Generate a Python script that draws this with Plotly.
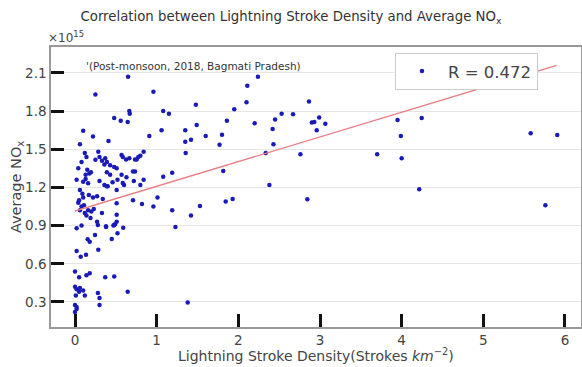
import plotly.graph_objects as go

# Scatter data (Lightning stroke density, average NOx in 1e15)
density = [
    1.08, 1.15, 1.48, 2.10, 1.95, 0.91, 1.06, 1.35, 1.49, 1.35, 1.42, 1.60, 1.80, 1.86, 1.77,
    2.20, 2.42, 2.45, 2.53, 2.67, 2.43, 2.335, 1.355, 1.815, 2.38, 1.845, 1.93, 1.08, 1.19,
    1.01, 0.96, 1.19, 1.42, 1.53, 1.23, 1.38,
    2.865, 2.90, 2.93, 2.99, 3.065, 2.96, 2.76, 2.845, 3.70, 3.95, 3.99, 4.00, 4.245, 4.215,
    5.58, 5.905, 5.76, 0.96, 2.11, 2.24,
    0.665, 0.67, 0.65, 0.25, 0.48, 0.56, 0.645, 0.10, 0.22, 0.41, 0.06,
    0.12, 0.14, 0.285, 0.30, 0.25, 0.33, 0.37, 0.39, 0.36, 0.43, 0.48, 0.51,
    0.57, 0.625, 0.735, 0.80, 0.84, 0.15, 0.175, 0.13, 0.195, 0.39, 0.43, 0.735,
    0.02, 0.10, 0.13, 0.16, 0.30, 0.36, 0.40, 0.52, 0.60, 0.72, 0.80, 0.84,
    0.04, 0.08, 0.11, 0.06, 0.12, 0.16, 0.20, 0.23, 0.14, 0.19, 0.05, 0.10, 0.17, 0.22, 0.27, 0.34,
    0.02, 0.08, 0.27, 0.33, 0.51, 0.51, 0.38, 0.47, 0.49, 0.59,
    0.245, 0.155, 0.18, 0.52, 0.45, 0.285, 0.02, 0.07, 0.135,
    0.0, 0.05, 0.14, 0.18, 0.37, 0.48,
    0.0, 0.02, 0.05, 0.10, 0.12, 0.01, 0.06, 0.28, 0.30, 0.30, 0.645,
    0.0, 0.02, 0.02, 0.0,
    0.82, 0.71, 0.57, 0.63, 0.71, 0.585, 0.51, 0.46, 0.39,
    0.585, 0.665, 0.755, 0.775, 0.28, 0.38, 0.48, 0.51,
    0.04, 0.08, 0.06, 0.09,
]
avg_nox = [
    1.80, 1.78, 1.85, 1.87, 1.815, 1.605, 1.65, 1.65, 1.69, 1.56, 1.575, 1.605, 1.615, 1.725, 1.535,
    1.705, 1.66, 1.735, 1.78, 1.775, 1.54, 1.47, 1.47, 1.33, 1.22, 1.09, 1.11, 1.285, 1.315,
    1.12, 1.05, 1.02, 0.98, 1.055, 0.89, 0.295,
    1.875, 1.71, 1.715, 1.75, 1.70, 1.65, 1.46, 1.107, 1.46, 1.73, 1.605, 1.43, 1.745, 1.186,
    1.626, 1.613, 1.06, 1.953, 2.00, 2.07,
    1.80, 1.78, 2.07, 1.93, 1.745, 1.725, 1.715, 1.645, 1.60, 1.565, 1.54,
    1.47, 1.44, 1.48, 1.44, 1.417, 1.41, 1.43, 1.40, 1.38, 1.375, 1.36, 1.35,
    1.455, 1.42, 1.42, 1.45, 1.48, 1.34, 1.31, 1.30, 1.32, 1.32, 1.30, 1.325,
    1.26, 1.245, 1.267, 1.233, 1.25, 1.22, 1.21, 1.26, 1.22, 1.25, 1.22, 1.26,
    1.08, 1.05, 1.06, 1.02, 1.00, 1.02, 1.01, 1.03, 0.98, 0.96, 1.10, 1.12, 1.14, 1.12, 1.13, 1.11,
    0.88, 0.90, 0.93, 1.00, 1.076, 0.985, 0.89, 0.90, 0.91, 0.884,
    0.827, 0.793, 0.774, 0.84, 0.795, 0.71, 0.70, 0.656, 0.67,
    0.54, 0.494, 0.51, 0.525, 0.494, 0.50,
    0.42, 0.40, 0.38, 0.39, 0.35, 0.35, 0.41, 0.37, 0.33, 0.276, 0.38,
    0.276, 0.26, 0.245, 0.22,
    1.07, 1.10, 1.30, 1.28, 1.325, 1.235, 1.18, 1.24, 1.21,
    1.44, 1.43, 1.42, 1.44, 0.905, 0.895, 0.905, 0.93,
    1.35, 1.40, 1.18, 1.15,
]

# Regression line end points
fit_x = [0.0, 5.9]
fit_y = [1.015, 2.16]

r_label = "R = 0.472"
x_ticks = [0, 1, 2, 3, 4, 5, 6]
y_ticks = [0.3, 0.6, 0.9, 1.2, 1.5, 1.8, 2.1]

FONT = "DejaVu Sans"

fig = go.Figure()
fig.add_trace(go.Scatter(
    x=density, y=avg_nox, mode="markers", name=r_label,
    marker=dict(color="#1a1ab8", size=4.5, line=dict(width=0)),
))
fig.add_trace(go.Scatter(
    x=fit_x, y=fit_y, mode="lines", showlegend=False,
    line=dict(color="#ec7f86", width=1.4),
))

fig.update_layout(
    width=582, height=367,
    margin=dict(l=51, r=1, t=47, b=40, autoexpand=False),
    paper_bgcolor="white", plot_bgcolor="white",
    font=dict(family=FONT, color="#444444"),
    title=dict(
        text="Correlation between Lightning Stroke Density and Average NO<sub>x</sub>",
        x=0.5, xanchor="center", y=0.955, yanchor="middle",
        font=dict(size=13.3, color="#333333", family=FONT),
    ),
    showlegend=True,
    legend=dict(
        x=0.649, y=0.979, xanchor="left", yanchor="top",
        bgcolor="white", bordercolor="#cccccc", borderwidth=1,
        font=dict(size=16.5, color="#444444", family=FONT),
        itemwidth=42,
    ),
    xaxis=dict(
        range=[-0.294, 6.196], tickvals=x_ticks, ticktext=[str(v) for v in x_ticks],
        ticks="inside", ticklen=13, tickwidth=2.5, tickcolor="#111111",
        showgrid=False, zeroline=False, automargin=False,
        showline=True, linecolor="#999999", linewidth=1.5, mirror=True,
        tickfont=dict(size=13.5, color="#444444"),
    ),
    yaxis=dict(
        range=[0.103, 2.304], tickvals=y_ticks, ticktext=[f"{v:.1f}" for v in y_ticks],
        ticks="inside", ticklen=13, tickwidth=2.5, tickcolor="#111111",
        showgrid=True, gridcolor="#e6e6e6", gridwidth=1, zeroline=False, automargin=False,
        showline=True, linecolor="#999999", linewidth=1.5, mirror=True,
        tickfont=dict(size=13.5, color="#444444"),
    ),
    annotations=[
        dict(text="×10<sup>15</sup>", xref="paper", yref="paper", x=-0.01, y=1.0,
             xanchor="left", yanchor="bottom", showarrow=False,
             font=dict(size=12, color="#444444", family=FONT)),
        dict(text="'(Post-monsoon, 2018, Bagmati Pradesh)", xref="paper", yref="paper",
             x=0.062, y=0.932, xanchor="left", yanchor="middle", showarrow=False,
             font=dict(size=10.5, color="#333333", family=FONT)),
        dict(text="Lightning Stroke Density(Strokes <i>km</i><sup>−2</sup>)",
             xref="paper", yref="paper", x=0.5, y=-0.1, xanchor="center", yanchor="middle",
             showarrow=False, font=dict(size=14, color="#444444", family=FONT)),
        dict(text="Average NO<sub>x</sub>", xref="paper", yref="paper", x=-0.064, y=0.5,
             xanchor="center", yanchor="middle", textangle=-90,
             showarrow=False, font=dict(size=14.5, color="#444444", family=FONT)),
    ],
)

fig.write_html(
    "out.html",
    config={"displayModeBar": False},
    post_script="document.body.style.margin='0px';document.body.style.overflow='hidden';",
)
